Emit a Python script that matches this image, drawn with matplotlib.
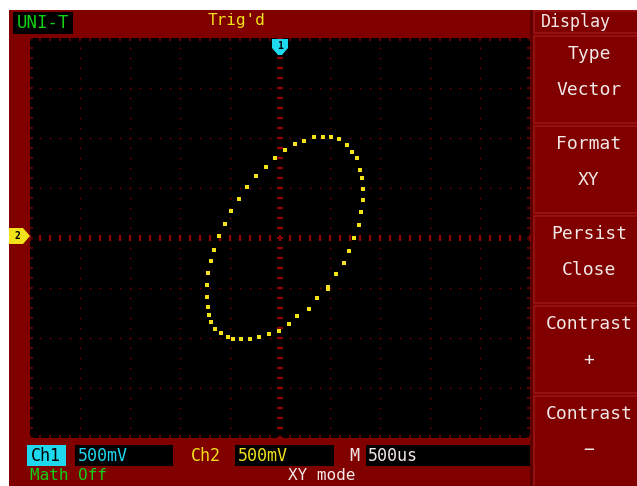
import numpy as np
import matplotlib; matplotlib.use("Agg")
import matplotlib.pyplot as plt
from matplotlib.patches import Rectangle, Polygon

# XY 模式: Ch1 -> X, Ch2 -> Y (V), 500mV/div
ch1_v = [0.34, 0.43, 0.51, 0.59, 0.67, 0.72, 0.77, 0.80, 0.82, 0.83, 0.83, 0.81, 0.79,
         0.74, 0.69, 0.64, 0.56, 0.48, 0.48, 0.37, 0.29, 0.17, 0.09, -0.01, -0.11, -0.21,
         -0.30, -0.39, -0.47, -0.52, -0.59, -0.65, -0.69, -0.71, -0.72, -0.73, -0.73, -0.72,
         -0.69, -0.66, -0.61, -0.55, -0.49, -0.41, -0.33, -0.24, -0.14, -0.05, 0.05, 0.15, 0.24]
ch2_v = [1.01, 1.01, 1.01, 0.99, 0.93, 0.86, 0.80, 0.68, 0.60, 0.49, 0.38, 0.26, 0.13,
         0.00, -0.13, -0.25, -0.36, -0.49, -0.51, -0.60, -0.71, -0.78, -0.86, -0.93, -0.96, -0.99,
         -1.01, -1.01, -1.01, -0.99, -0.95, -0.91, -0.84, -0.77, -0.69, -0.59, -0.47, -0.35,
         -0.23, -0.12, 0.02, 0.14, 0.27, 0.39, 0.51, 0.62, 0.71, 0.80, 0.88, 0.94, 0.97]

menu_title = "Display"
menu_top = ["Type", "Format", "Persist", "Contrast", "Contrast"]
menu_bot = ["Vector", "XY", "Close", "+", "\u2212"]
ch1_scale, ch2_scale, time_base = "500mV", "500mV", "500us"

RED = '#800000'; EDGE = '#9a1414'; GRID = '#7a0000'; GRID_C = '#920000'
YEL = '#f2e21a'; CYAN = '#1ed8ee'; GREEN = '#12d012'; WHITE = '#f2e8e8'
MONO = 'DejaVu Sans Mono'

W, H = 637, 486
fig = plt.figure(figsize=(W/100, H/100), dpi=100, facecolor='white')
bg = fig.add_axes([0, 0, 1, 1]); bg.set_xlim(0, W); bg.set_ylim(H, 0); bg.axis('off')
bg.add_patch(Rectangle((9, 10), W-9, H-10, fc=RED, ec='none'))
bg.add_patch(Rectangle((530, 10), 3, H-10, fc='#5e0000', ec='none'))

# 螢幕 10x8 div
sx, sy, sw, sh = 30, 38, 500, 400
ax = fig.add_axes([sx/W, 1-(sy+sh)/H, sw/W, sh/H])
ax.set_facecolor('black'); ax.set_xlim(-2.5, 2.5); ax.set_ylim(-2, 2)
ax.set_xticks([]); ax.set_yticks([])
for sp in ax.spines.values(): sp.set_visible(False)
xf = np.arange(-2.5, 2.501, 0.1); yf = np.arange(-2.0, 2.001, 0.1)
for xv in np.arange(-2.0, 2.01, 0.5):
    if abs(xv) > 1e-6:
        ax.plot(np.full(len(yf), xv), yf, 's', ms=1.1, mew=0, color=GRID)
for yv in np.arange(-1.5, 1.51, 0.5):
    if abs(yv) > 1e-6:
        ax.plot(xf, np.full(len(xf), yv), 's', ms=1.1, mew=0, color=GRID)
ax.plot(xf, np.zeros(len(xf)), '|', ms=4.5, mew=1.6, color=GRID_C)
ax.plot(np.zeros(len(yf)), yf, '_', ms=4.5, mew=1.6, color=GRID_C)
ax.plot(xf, np.full(len(xf), 2.0), '|', ms=4.5, mew=1.1, color=GRID)
ax.plot(xf, np.full(len(xf), -2.0), '|', ms=4.5, mew=1.1, color=GRID)
ax.plot(np.full(len(yf), -2.5), yf, '_', ms=4.5, mew=1.1, color=GRID)
ax.plot(np.full(len(yf), 2.5), yf, '_', ms=4.5, mew=1.1, color=GRID)

ax.plot(ch1_v, ch2_v, 's', ls='none', ms=2.2, mew=0, color=YEL)

# 通道標記 (疊在螢幕上)
ov = fig.add_axes([0, 0, 1, 1]); ov.set_xlim(0, W); ov.set_ylim(H, 0); ov.axis('off')
ov.patch.set_alpha(0)
ov.add_patch(Polygon([[272, 39], [288, 39], [288, 48], [282, 55], [278, 55], [272, 48]],
                     closed=True, fc=CYAN, ec='none'))
ov.text(280, 46, "1", color='black', fontsize=7, family=MONO, weight='bold',
        ha='center', va='center')
ov.add_patch(Polygon([[9, 228], [23, 228], [30, 236], [23, 244], [9, 244]],
                     closed=True, fc=YEL, ec='none'))
ov.text(17, 236, "2", color='black', fontsize=7, family=MONO, weight='bold',
        ha='center', va='center')

# 頂列
bg.add_patch(Rectangle((13, 12), 60, 22, fc='black', ec='none'))
bg.text(43, 23, "UNI-T", color=GREEN, fontsize=12.5, family=MONO, ha='center', va='center')
bg.text(236, 21, "Trig'd", color=YEL, fontsize=11.5, family=MONO, ha='center', va='center')

# 右側選單
bg.add_patch(Rectangle((534, 11), 110, 22, fc=RED, ec=EDGE, lw=1.2))
bg.text(576, 22, menu_title, color=WHITE, fontsize=12, family=MONO, ha='center', va='center')
for i, (t, b) in enumerate(zip(menu_top, menu_bot)):
    y0 = 36 + 90*i
    bg.add_patch(Rectangle((534, y0), 110, 87 if i < 4 else 100, fc=RED, ec=EDGE, lw=1.2))
    bg.text(589, y0 + 18, t, color=WHITE, fontsize=13, family=MONO, ha='center', va='center')
    bg.text(589, y0 + 54, b, color=WHITE, fontsize=13, family=MONO, ha='center', va='center')

# 底列
ry, rh = 445, 21
bg.add_patch(Rectangle((27, ry), 39, rh, fc=CYAN, ec='none'))
bg.text(46, ry + rh/2, "Ch1", color='black', fontsize=12, family=MONO, ha='center', va='center')
bg.add_patch(Rectangle((75, ry), 98, rh, fc='black', ec='none'))
bg.text(78, ry + rh/2, ch1_scale, color=CYAN, fontsize=12, family=MONO, ha='left', va='center')
bg.text(206, ry + rh/2, "Ch2", color=YEL, fontsize=12, family=MONO, ha='center', va='center')
bg.add_patch(Rectangle((235, ry), 99, rh, fc='black', ec='none'))
bg.text(238, ry + rh/2, ch2_scale, color=YEL, fontsize=12, family=MONO, ha='left', va='center')
bg.text(354, ry + rh/2, "M", color=WHITE, fontsize=12, family=MONO, ha='center', va='center')
bg.add_patch(Rectangle((366, ry), 164, rh, fc='black', ec='none'))
bg.text(368, ry + rh/2, time_base, color=WHITE, fontsize=12, family=MONO, ha='left', va='center')
bg.text(30, 468, "Math Off", color=GREEN, fontsize=11.5, family=MONO, ha='left', va='top')
bg.text(322, 468, "XY mode", color=WHITE, fontsize=11.5, family=MONO, ha='center', va='top')

plt.savefig("out.png", dpi=100, facecolor='white')
plt.close()
